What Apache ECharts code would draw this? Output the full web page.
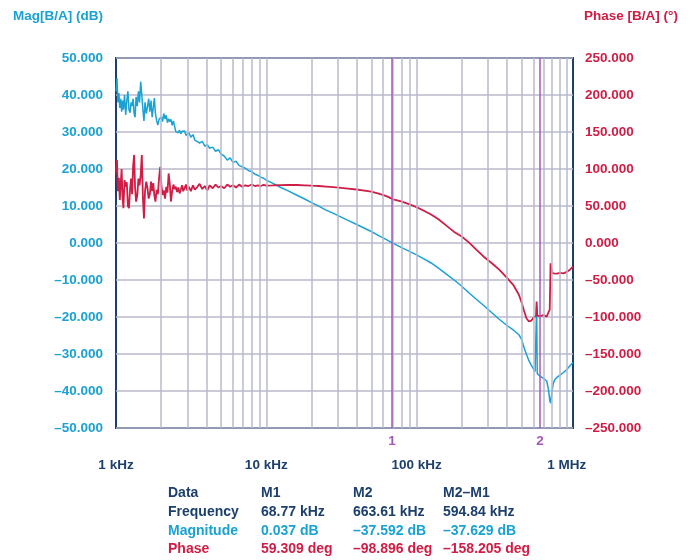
<!DOCTYPE html>
<html><head><meta charset="utf-8">
<script src="https://cdn.jsdelivr.net/npm/echarts@6/dist/echarts.min.js"></script>
<style>html,body{margin:0;padding:0;background:#fff}#c{width:691px;height:560px}</style>
</head><body><div id="c"></div>
<script>
// ---- data ----
const freqHz = [
  1000, 1015, 1030, 1045, 1060, 1075, 1090, 1105, 1120, 1140,
  1160, 1180, 1200, 1220, 1240, 1260, 1280, 1300, 1320, 1340,
  1360, 1385, 1410, 1435, 1460, 1485, 1510, 1535, 1560, 1590,
  1620, 1650, 1680, 1710, 1740, 1770, 1800, 1830, 1865, 1900,
  1935, 1970, 2005, 2040, 2080, 2120, 2160, 2200, 2240, 2280,
  2320, 2365, 2410, 2455, 2500, 2550, 2600, 2650, 2700, 2750,
  2800, 2860, 2920, 2980,
  3050, 3150, 3250, 3350, 3450, 3600, 3750, 3900, 4050, 4200,
  4400, 4600, 4800, 5000, 5250, 5500, 5750, 6000, 6300, 6600,
  6900, 7250, 7600, 8000, 8400, 8800, 9200, 9600, 10000,
  11000, 12500, 14000, 16000, 18000, 20000, 22500, 25000, 28000, 31500,
  35000, 40000, 45000, 50000, 56000, 63000, 70000, 79000, 89000, 100000,
  112000, 125000, 140000, 158000, 178000, 200000, 224000, 250000, 280000, 316000,
  355000, 400000, 440000, 480000,
  500000, 520000, 540000, 560000, 580000, 600000, 615000, 625000, 630000, 636000,
  650000, 663610, 700000, 735000, 755000, 770000, 780000, 795000, 810000, 830000,
  860000, 900000, 950000, 1000000, 1050000, 1100000
];
const magDb = [
  41.0, 44.5, 38.0, 40.5, 36.5, 39.0, 35.5, 38.5, 36.0, 40.0,
  34.6, 38.5, 41.0, 36.0, 35.2, 38.0, 37.0, 39.0, 35.0, 34.0,
  39.5, 37.0, 41.0, 38.0, 43.6, 40.0, 36.0, 33.0, 38.0, 35.0,
  36.8, 39.0, 35.5, 38.5, 34.0, 36.5, 39.2, 35.0, 33.0, 31.9,
  33.5, 33.0, 34.0, 32.8, 35.0, 33.5, 34.5, 32.5, 33.6, 32.8,
  33.4, 31.8, 33.0, 31.5, 30.1, 30.6, 29.8, 30.5, 29.5, 30.2,
  29.9, 30.3, 29.1, 29.6,
  29.8, 28.6, 29.3, 27.8, 28.2, 27.0, 27.5, 26.2, 26.6, 25.6,
  25.9, 24.8, 25.2, 24.1, 23.5, 22.4, 23.0, 21.8, 22.1, 20.9,
  20.6, 20.2, 19.6, 19.3, 18.6, 18.3, 17.8, 17.5, 17.0,
  16.2, 15.0, 14.1, 12.9, 11.9, 10.9, 9.9, 8.9, 8.0, 7.0,
  6.1, 5.0, 4.0, 3.1, 2.0, 0.9, -0.1, -1.2, -2.2, -3.2,
  -4.3, -5.4, -6.8, -8.4, -10.0, -11.7, -13.5, -15.2, -16.9, -18.8,
  -20.6, -22.3, -23.5, -24.8,
  -26.0, -28.3, -30.2, -31.8, -33.0, -34.0, -34.8, -35.0, -17.0, -35.3,
  -35.5, -36.0, -36.6, -37.3, -39.5, -42.5, -43.3, -40.5, -38.2, -37.0,
  -36.3, -35.7, -35.0, -34.2, -33.2, -32.3
];
const phaseDeg = [
  95, 112, 70, 88, 58, 80, 100, 62, 47, 85,
  76, 82, 50, 47, 72, 87, 66, 104, 119, 74,
  56, 64, 87, 78, 92, 119, 62, 33, 70, 83,
  74, 60, 66, 83, 70, 81, 64, 56, 72, 66,
  88, 103, 78, 65, 71, 60, 76, 68, 94, 80,
  56, 70, 79, 73, 76, 69, 75, 67, 72, 78,
  70, 74, 79, 71,
  76, 70, 78, 72, 75, 80, 73, 77, 71, 78,
  74, 79, 75, 77, 74, 79, 76, 78, 75, 79,
  76, 78, 77, 79, 77, 78, 77, 78.5, 77.5,
  77.8, 78.3, 78.5, 78.4, 78.0, 77.5, 77.0, 76.3, 75.5, 74.5,
  73.6, 72.3, 70.8, 69.3, 66.8, 63.3, 59.0, 56.3, 52.5, 48.5,
  43.5, 38.5, 32, 23.5, 15, 8.8, 0.5, -9, -18.5, -27,
  -36, -47, -56.5, -70,
  -80, -92, -102, -106, -105, -101, -99, -98, -79, -98,
  -97.5, -98.9, -97.5, -99.5, -97, -90, -27.5, -38, -41, -41,
  -41.5, -40.5, -41, -39, -36, -32
];
const xTickValues = [1000, 10000, 100000, 1000000];
const xTickLabels = ['1 kHz', '10 kHz', '100 kHz', '1 MHz'];
const gridFreqs = [
  2000, 3000, 4000, 5000, 6000, 7000, 8000, 9000, 10000,
  20000, 30000, 40000, 50000, 60000, 70000, 80000, 90000, 100000,
  200000, 300000, 400000, 500000, 600000, 700000, 800000, 900000, 1000000
];
const markerFreqs = [68770, 663610];
const markerNames = ['1', '2'];
const tableCols = ['Data', 'M1', 'M2', 'M2\u2013M1'];
const tableFreq = ['Frequency', '68.77 kHz', '663.61 kHz', '594.84 kHz'];
const tableMag = ['Magnitude', '0.037 dB', '\u201337.592 dB', '\u201337.629 dB'];
const tablePhase = ['Phase', '59.309 deg', '\u201398.896 deg', '\u2013158.205 deg'];

// ---- styles ----
const FONT = '"Liberation Sans", Arial, Helvetica, sans-serif';
const NAVY = '#1c3f6c', BLUE = '#1aa2d2', RED = '#cf1d45', PURPLE = '#a457b8', GRIDC = '#b9b9cd';
function fmtNum(v) { const s = Math.abs(v).toFixed(3); return v < 0 ? '\u2013' + s : s; }

const chart = echarts.init(document.getElementById('c'), null, { renderer: 'canvas' });

const tableColX = [168, 261, 353, 443];
const tableRows = [[tableCols, NAVY], [tableFreq, NAVY], [tableMag, BLUE], [tablePhase, RED]];
const tableRowY = [493, 512, 531, 549];
const graphics = [
  { type: 'text', x: 13, y: 16, style: { text: 'Mag[B/A] (dB)', fill: BLUE, font: 'bold 13.5px ' + FONT, align: 'left', verticalAlign: 'middle' } },
  { type: 'text', x: 678, y: 16, style: { text: 'Phase [B/A] (\u00b0)', fill: RED, font: 'bold 13.5px ' + FONT, align: 'right', verticalAlign: 'middle' } }
];
tableRows.forEach(([row, col], r) => {
  row.forEach((t, c) => {
    graphics.push({ type: 'text', x: tableColX[c], y: tableRowY[r],
      style: { text: t, fill: col, font: 'bold 14px ' + FONT, align: 'left', verticalAlign: 'middle' } });
  });
});

chart.setOption({
  animation: false,
  backgroundColor: '#ffffff',
  grid: { left: 116, right: 118, top: 58, bottom: 132, show: true, borderColor: NAVY, borderWidth: 2, backgroundColor: 'transparent' },
  xAxis: {
    type: 'log', logBase: 10, min: 1000, max: 1100000,
    axisLine: { show: false }, axisTick: { show: false }, splitLine: { show: false },
    axisLabel: {
      margin: 30, color: NAVY, fontWeight: 'bold', fontSize: 13.5, fontFamily: FONT,
      formatter: v => { const i = xTickValues.indexOf(Math.round(v)); return i >= 0 ? xTickLabels[i] : ''; }
    }
  },
  yAxis: [
    { type: 'value', min: -50, max: 50, interval: 10, position: 'left',
      axisLine: { show: false }, axisTick: { show: false },
      splitLine: { show: true, lineStyle: { color: GRIDC, width: 1.5 } },
      axisLabel: { margin: 13, color: BLUE, fontWeight: 'bold', fontSize: 13.5, fontFamily: FONT, formatter: fmtNum } },
    { type: 'value', min: -250, max: 250, interval: 50, position: 'right',
      axisLine: { show: false }, axisTick: { show: false }, splitLine: { show: false },
      axisLabel: { margin: 12, color: RED, fontWeight: 'bold', fontSize: 13.5, fontFamily: FONT, formatter: fmtNum } }
  ],
  graphic: graphics,
  series: [
    { type: 'line', data: [], z: 1, silent: true,
      markLine: { silent: true, symbol: 'none', animation: false, label: { show: false },
        lineStyle: { color: GRIDC, width: 1.5, type: 'solid' },
        data: gridFreqs.map(f => ({ xAxis: f })) } },
    { type: 'line', data: [], z: 2, silent: true,
      markLine: { silent: true, symbol: 'none', animation: false,
        lineStyle: { color: PURPLE, width: 1.5, type: 'solid' },
        label: { show: true, position: 'start', formatter: '{b}', color: PURPLE, fontWeight: 'bold', fontSize: 13.5, fontFamily: FONT, distance: 6 },
        data: markerFreqs.map((f, i) => ({ xAxis: f, name: markerNames[i] })) } },
    { type: 'line', name: 'Magnitude', yAxisIndex: 0, z: 3, symbol: 'none', showSymbol: false,
      data: freqHz.map((f, i) => [f, magDb[i]]),
      lineStyle: { color: BLUE, width: 1.5 }, itemStyle: { color: BLUE } },
    { type: 'line', name: 'Phase', yAxisIndex: 1, z: 4, symbol: 'none', showSymbol: false,
      data: freqHz.map((f, i) => [f, phaseDeg[i]]),
      lineStyle: { color: RED, width: 1.8 }, itemStyle: { color: RED } }
  ]
});
</script>
</body></html>
